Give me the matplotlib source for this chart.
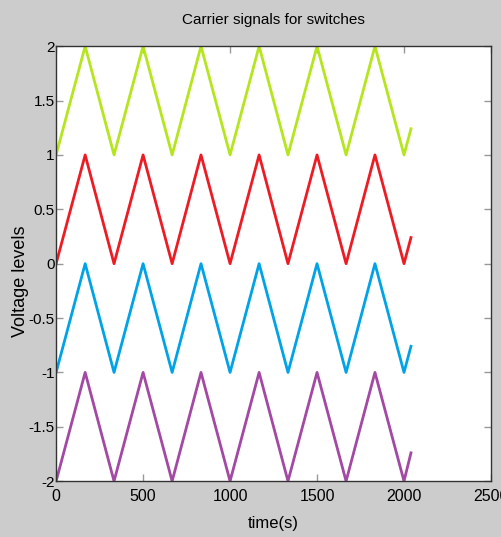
import matplotlib
matplotlib.use('Agg')
import matplotlib.pyplot as plt

# ── Datos (vértices de las portadoras triangulares) ──────────────────────────
tiempo = [0, 167, 333, 500, 667, 833, 1000, 1167, 1333, 1500, 1667, 1833, 2000, 2040]
verde = [1, 2, 1, 2, 1, 2, 1, 2, 1, 2, 1, 2, 1, 1.24]
rojo = [0, 1, 0, 1, 0, 1, 0, 1, 0, 1, 0, 1, 0, 0.24]
azul = [-1, 0, -1, 0, -1, 0, -1, 0, -1, 0, -1, 0, -1, -0.76]
morado = [-2, -1, -2, -1, -2, -1, -2, -1, -2, -1, -2, -1, -2, -1.74]

x_ticks = [0, 500, 1000, 1500, 2000, 2500]
y_ticks = [-2, -1.5, -1, -0.5, 0, 0.5, 1, 1.5, 2]
y_labels = ['-2', '-1.5', '-1', '-0.5', '0', '0.5', '1', '1.5', '2']

FUENTE = ['Liberation Sans', 'DejaVu Sans']

fig = plt.figure(figsize=(5.01, 5.37), dpi=100, facecolor='#cccccc')
ax = fig.add_axes([0.112, 0.104, 0.868, 0.810])

for serie, color in [(verde, '#b5e61d'), (rojo, '#ed1c24'),
                     (azul, '#00a2e8'), (morado, '#a349a4')]:
    ax.plot(tiempo, serie, color=color, lw=2)

ax.set_xlim(0, 2500)
ax.set_ylim(-2, 2)
ax.set_xticks(x_ticks)
ax.set_xticklabels([str(t) for t in x_ticks], family=FUENTE, fontsize=11.5)
ax.set_yticks(y_ticks)
ax.set_yticklabels(y_labels, family=FUENTE, fontsize=11)
ax.tick_params(direction='in', length=5, width=1, color='#999999',
               top=True, right=True)
ax.tick_params(axis='x', pad=6)
ax.tick_params(axis='y', pad=1)
for s in ax.spines.values():
    s.set_color('#333333')
    s.set_linewidth(1)

ax.set_title('Carrier signals for switches', family=FUENTE, fontsize=11, pad=16)
ax.set_xlabel('time(s)', family=FUENTE, fontsize=12, labelpad=8)
ax.set_ylabel('Voltage levels', family=FUENTE, fontsize=13)
ax.yaxis.set_label_coords(-0.062, 0.46)

fig.savefig('out.png', dpi=100, facecolor=fig.get_facecolor())
